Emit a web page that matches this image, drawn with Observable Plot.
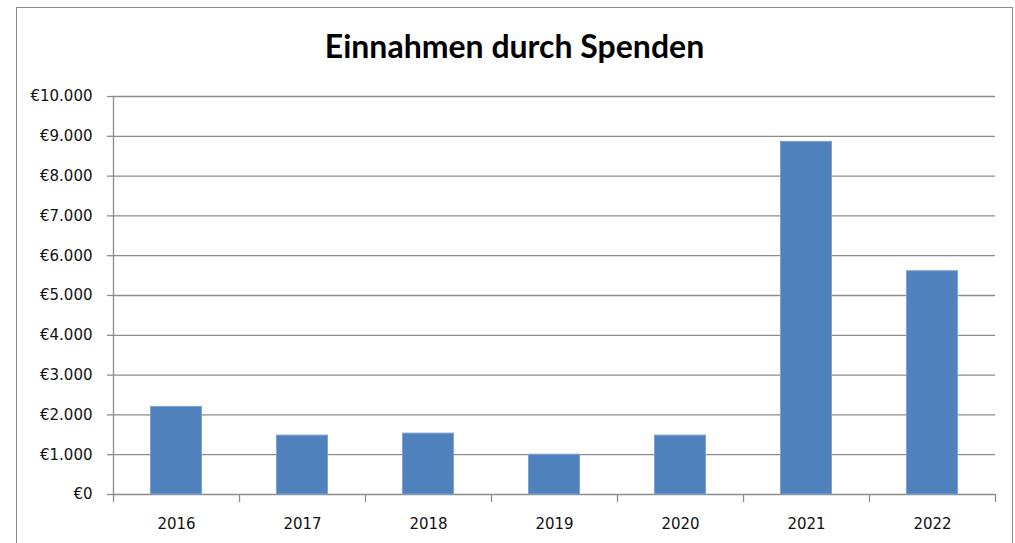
<!DOCTYPE html>
<html><head><meta charset="utf-8">
<script src="https://cdn.jsdelivr.net/npm/d3@7"></script>
<script src="https://cdn.jsdelivr.net/npm/@observablehq/plot@0.6"></script>
<style>
body{margin:0;background:#fff;}
#wrap{position:relative;width:1015px;height:543px;overflow:hidden;font-family:Lato,"Open Sans",sans-serif;}
#frame{position:absolute;left:16px;top:7px;width:997px;height:600px;border:1.5px solid #8c8c8c;box-sizing:border-box;pointer-events:none;}
#title{margin-left:16px;width:997px;height:70px;box-sizing:border-box;padding-top:27px;line-height:38px;font-size:32px;font-weight:700;text-align:center;color:#000;}
#chart svg{display:block;}
</style></head><body>
<div id="wrap"><div id="title">Einnahmen durch Spenden</div><div id="chart"></div><div id="frame"></div></div>
<script>
const years = ["2016", "2017", "2018", "2019", "2020", "2021", "2022"];
const donations = [2200, 1480, 1530, 1000, 1480, 8860, 5610];
const yTicks = [0, 1000, 2000, 3000, 4000, 5000, 6000, 7000, 8000, 9000, 10000];

const data = years.map((year, i) => ({year, value: donations[i]}));
const euro = d3.formatLocale({decimal: ",", thousands: ".", grouping: [3], currency: ["€", ""]}).format("$,.0f");
const grid = "#8c8c8c";
const width = 1015, height = 473, mL = 113, mR = 20, mT = 26, mB = 49;
const band = (width - mL - mR) / years.length;
const below = (10000 / (height - mT - mB)) * 8; // 8px tick length in data units

const chart = Plot.plot({
  width, height, marginTop: mT, marginBottom: mB, marginLeft: mL, marginRight: mR,
  style: {fontFamily: "'DejaVu Sans', sans-serif", fontSize: "15px", color: "#000", background: "transparent", overflow: "visible"},
  x: {domain: years, padding: 0},
  y: {domain: [0, 10000]},
  marks: [
    Plot.gridY(yTicks, {stroke: grid, strokeOpacity: 1, strokeWidth: 1.3}),
    Plot.axisY({ticks: yTicks, tickSize: 6, tickPadding: 15, tickFormat: euro, label: null, stroke: grid, strokeOpacity: 1, strokeWidth: 1.3, fill: "#111", fontSize: 15}),
    Plot.barY(data, {x: "year", y: "value", fill: "#4f81bd", stroke: "#7fa2d1", strokeWidth: 1, insetLeft: (band - 51) / 2, insetRight: (band - 51) / 2}),
    Plot.ruleX([years[0]], {x: d => d, dx: -band / 2, y1: 10000, y2: -below, stroke: grid, strokeWidth: 1.3}),
    Plot.ruleX(years.slice(1), {x: d => d, dx: -band / 2, y1: 0, y2: -below, stroke: grid, strokeWidth: 1.3}),
    Plot.ruleX([years[years.length - 1]], {x: d => d, dx: band / 2, y1: 0, y2: -below, stroke: grid, strokeWidth: 1.3}),
    Plot.axisX({tickSize: 0, tickPadding: 24, label: null, fill: "#111", fontSize: 15})
  ]
});
document.getElementById("chart").appendChild(chart);
</script>
</body></html>
